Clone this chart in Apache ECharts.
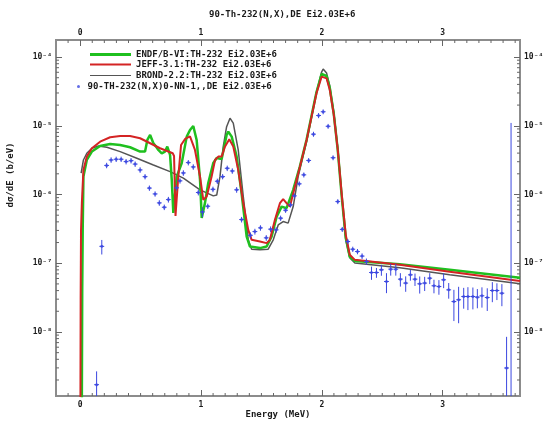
<!DOCTYPE html>
<html><head><meta charset="utf-8">
<script src="https://cdn.jsdelivr.net/npm/echarts@6/dist/echarts.min.js"></script>
<style>html,body{margin:0;padding:0;background:#fff}#c{width:548px;height:423px}</style>
</head><body><div id="c"></div>
<script>
// ---------------- DATA ----------------
const chartTitle = '90-Th-232(N,X),DE Ei2.03E+6';
const xName = 'Energy (MeV)';
const yName = 'd\u03c3/dE (b/eV)';
const seriesNames = [
  'ENDF/B-VI:TH-232 Ei2.03E+6',
  'JEFF-3.1:TH-232 Ei2.03E+6',
  'BROND-2.2:TH-232 Ei2.03E+6',
  '90-TH-232(N,X)0-NN-1,,DE Ei2.03E+6'
];
const xMajorTicks = [0, 1, 2, 3];
const yMajorTicks = [1e-8, 1e-7, 1e-6, 1e-5, 1e-4];

// ENDF/B-VI (green)
const greenE = [0.012,0.017,0.021,0.027,0.055,0.097,0.165,0.248,0.331,0.413,0.496,0.537,0.556,0.579,0.606,0.628,0.647,0.675,0.702,0.721,0.744,0.758,0.771,0.799,0.840,0.882,0.909,0.936,0.964,0.992,1.006,1.033,1.060,1.102,1.130,1.171,1.212,1.226,1.254,1.295,1.336,1.378,1.405,1.488,1.543,1.584,1.626,1.667,1.708,1.763,1.818,1.874,1.915,1.956,1.998,2.011,2.039,2.066,2.099,2.132,2.165,2.198,2.231,2.273,2.645,3.058,3.640];
const greenY = [1e-10,4.10e-8,3.06e-7,1.82e-6,3.18e-6,4.21e-6,5.09e-6,5.44e-6,5.26e-6,4.87e-6,4.21e-6,4.21e-6,6.22e-6,7.35e-6,5.57e-6,4.97e-6,4.45e-6,3.98e-6,4.21e-6,4.97e-6,3.77e-6,1.63e-6,5.41e-7,1.82e-6,2.85e-6,6.95e-6,8.69e-6,9.93e-6,6.22e-6,1.63e-6,4.57e-7,7.55e-7,1.47e-6,2.88e-6,3.40e-6,3.29e-6,7.35e-6,8.20e-6,6.95e-6,3.56e-6,1.04e-6,2.44e-7,1.75e-7,1.66e-7,1.75e-7,2.44e-7,4.77e-7,6.67e-7,6.32e-7,1.17e-6,2.55e-6,6.3e-6,1.4e-5,3.1e-5,5.66e-5,5.96e-5,5.30e-5,3.54e-5,1.48e-5,4.4e-6,9.2e-7,2.34e-7,1.24e-7,1.08e-7,9.63e-8,8.02e-8,6.14e-8];

// JEFF-3.1 (red)
const redE = [0.001,0.004,0.007,0.014,0.027,0.055,0.097,0.165,0.248,0.331,0.413,0.496,0.579,0.661,0.766,0.777,0.789,0.810,0.835,0.868,0.909,0.950,0.992,1.019,1.047,1.088,1.116,1.143,1.171,1.198,1.234,1.267,1.308,1.350,1.391,1.419,1.488,1.543,1.570,1.612,1.653,1.680,1.708,1.736,1.777,1.818,1.874,1.915,1.956,1.998,2.011,2.039,2.066,2.099,2.132,2.165,2.198,2.231,2.273,2.645,3.058,3.640];
const redY = [1e-10,3e-8,3e-7,7.55e-7,2.28e-6,3.56e-6,4.71e-6,5.87e-6,6.81e-6,7.11e-6,7.11e-6,6.58e-6,5.57e-6,4.71e-6,3.98e-6,3.64e-6,4.89e-7,1.63e-6,5.26e-6,6.43e-6,6.99e-6,4.45e-6,1.82e-6,8.35e-7,9.33e-7,1.82e-6,3.18e-6,3.56e-6,3.56e-6,4.97e-6,6.37e-6,4.97e-6,2.28e-6,7.48e-7,3.06e-7,2.19e-7,2.07e-7,1.96e-7,2.19e-7,4.28e-7,7.48e-7,8.55e-7,7.48e-7,6.67e-7,1.30e-6,2.52e-6,6.22e-6,1.36e-5,2.97e-5,5.18e-5,5.47e-5,4.90e-5,3.31e-5,1.44e-5,4.45e-6,9.87e-7,2.59e-7,1.33e-7,1.12e-7,9.48e-8,7.50e-8,5.5e-8];

// BROND-2.2 (gray)
const grayE = [0.008,0.027,0.055,0.097,0.151,0.221,0.331,0.469,0.606,0.744,0.854,0.992,1.102,1.130,1.157,1.184,1.212,1.240,1.267,1.308,1.350,1.391,1.419,1.488,1.556,1.598,1.639,1.680,1.721,1.763,1.804,1.874,1.915,1.956,1.998,2.011,2.039,2.066,2.099,2.132,2.165,2.198,2.231,2.273,2.645,3.058,3.640];
const grayY = [2.04e-6,3.18e-6,3.98e-6,4.71e-6,5.09e-6,4.87e-6,4.21e-6,3.37e-6,2.69e-6,2.15e-6,1.73e-6,1.17e-6,9.55e-7,9.8e-7,1.82e-6,4.97e-6,9.70e-6,1.29e-5,1.09e-5,4.45e-6,9.33e-7,2.19e-7,1.60e-7,1.57e-7,1.60e-7,2.19e-7,3.61e-7,4.04e-7,3.83e-7,6.67e-7,1.82e-6,5.82e-6,1.34e-5,3.1e-5,6.05e-5,6.70e-5,5.85e-5,3.79e-5,1.59e-5,4.75e-6,9.6e-7,2.19e-7,1.20e-7,1.01e-7,8.57e-8,6.78e-8,5.02e-8];

// Experimental points (blue) with errors
const expE = [0.136,0.179,0.219,0.256,0.298,0.339,0.380,0.421,0.455,0.496,0.537,0.573,0.620,0.655,0.696,0.730,0.798,0.826,0.854,0.895,0.936,0.978,1.012,1.056,1.099,1.135,1.179,1.217,1.259,1.295,1.336,1.409,1.446,1.492,1.540,1.576,1.622,1.659,1.700,1.741,1.773,1.813,1.851,1.891,1.931,1.973,2.011,2.052,2.093,2.132,2.169,2.215,2.256,2.295,2.333,2.369,2.411,2.452,2.493,2.535,2.570,2.612,2.650,2.694,2.733,2.771,2.810,2.851,2.893,2.928,2.969,3.008,3.050,3.093,3.132,3.174,3.209,3.250,3.287,3.325,3.369,3.411,3.449,3.490,3.529,3.566];
const expY = [1.71e-9,1.76e-7,2.65e-6,3.18e-6,3.26e-6,3.26e-6,3.01e-6,3.11e-6,2.77e-6,2.28e-6,1.82e-6,1.24e-6,1.02e-6,7.55e-7,6.53e-7,8.43e-7,1.25e-6,1.58e-6,2.06e-6,2.91e-6,2.52e-6,1.07e-6,5.58e-7,6.76e-7,1.19e-6,1.56e-6,1.82e-6,2.41e-6,2.20e-6,1.17e-6,4.32e-7,2.55e-7,2.89e-7,3.27e-7,2.34e-7,3.13e-7,3.06e-7,4.53e-7,5.91e-7,7.06e-7,9.55e-7,1.43e-6,1.93e-6,3.13e-6,7.55e-6,1.41e-5,1.60e-5,9.84e-6,3.43e-6,7.89e-7,3.11e-7,2.07e-7,1.60e-7,1.48e-7,1.27e-7,1.06e-7,7.33e-8,7.33e-8,8.02e-8,5.42e-8,8.20e-8,8.20e-8,5.87e-8,5.14e-8,6.78e-8,5.87e-8,5.02e-8,5.14e-8,6.07e-8,4.70e-8,4.58e-8,5.74e-8,4.10e-8,2.77e-8,2.94e-8,3.28e-8,3.28e-8,3.28e-8,3.21e-8,3.36e-8,3.17e-8,4.01e-8,4.01e-8,3.67e-8,2.99e-9,1.0e-9];
const expDY = [0.96e-9,0.42e-7,2.4e-7,2.9e-7,2.9e-7,2.9e-7,2.7e-7,2.8e-7,2.5e-7,2.1e-7,1.6e-7,1.1e-7,0.9e-7,0.7e-7,0.6e-7,0.8e-7,1.1e-7,1.4e-7,1.9e-7,2.6e-7,2.3e-7,1.0e-7,0.9e-7,0.6e-7,1.1e-7,1.4e-7,1.6e-7,2.2e-7,2.0e-7,1.1e-7,0.4e-7,0.25e-7,0.28e-7,0.3e-7,0.22e-7,0.3e-7,0.28e-7,0.4e-7,0.5e-7,0.6e-7,0.8e-7,1.2e-7,1.6e-7,2.6e-7,6.3e-7,1.2e-6,1.3e-6,8e-7,2.8e-7,0.65e-7,0.26e-7,0.18e-7,0.14e-7,0.13e-7,0.12e-7,0.11e-7,1.6e-8,1.2e-8,1.45e-8,1.75e-8,1.6e-8,1.6e-8,1.3e-8,1.3e-8,1.2e-8,1.2e-8,1.4e-8,1.2e-8,1.1e-8,1.05e-8,1.1e-8,1.4e-8,1.05e-8,1.33e-8,1.6e-8,1.1e-8,1.2e-8,1.15e-8,1.0e-8,1.1e-8,1.15e-8,1.3e-8,1.1e-8,1.3e-8,5.5e-9,1.1e-5];
const expDE = 0.02; // energy half-width of each experimental bin

// ---------------- CHART ----------------
const X_MIN = -0.2, X_MAX = 3.64, Y_MIN = 1.17e-9, Y_MAX = 1.77e-4;
const FONT = '"DejaVu Sans Mono", "Liberation Mono", monospace';
const FRAME = '#8c8c8c';
const TICK = '#666666';
const TXT = '#1a1a1a';
const BLUE = '#3b47e0';
const GREEN = '#1fc01f', RED = '#d42424', GRAY = '#555555';
const MINOR_LEN = 3;

const zip = (a, b) => a.map((v, i) => [v, b[i]]);
// minor tick positions (axis furniture)
const xMinorTicks = [];
for (let i = -1; i <= 36; i++) { if (i % 10 !== 0) xMinorTicks.push(i / 10); }
const yMinorTicks = [];
for (let n = -9; n <= -4; n++) for (let k = 2; k <= 9; k++) {
  const v = k * Math.pow(10, n);
  if (v > Y_MIN && v < Y_MAX) yMinorTicks.push(v);
}
const lMin = Math.log10(Y_MIN), lMax = Math.log10(Y_MAX);
const yMajorLog = yMajorTicks.map(v => Math.log10(v));
const SUP = {'-':'\u207b','0':'\u2070','1':'\u00b9','2':'\u00b2','3':'\u00b3','4':'\u2074','5':'\u2075','6':'\u2076','7':'\u2077','8':'\u2078','9':'\u2079'};
const powLabel = v => '10' + String(Math.round(v)).split('').map(c => SUP[c]).join('');

const labelStyle = {fontFamily: FONT, fontSize: 8, fontWeight: 'bold', color: TXT};

function xAx(pos) {
  return {
    type: 'value', position: pos, min: X_MIN, max: X_MAX, offset: 0,
    axisLine: {show: false, onZero: false}, splitLine: {show: false},
    axisTick: {show: true, inside: true, length: 6, customValues: xMajorTicks, lineStyle: {color: TICK, width: 1}},
    axisLabel: Object.assign({show: true, customValues: xMajorTicks, margin: pos === 'top' ? 3 : 5,
               formatter: v => String(v)}, labelStyle)
  };
}
function yAx(pos) {
  return {
    type: 'value', position: pos, min: lMin, max: lMax, offset: 0,
    axisLine: {show: false, onZero: false}, splitLine: {show: false},
    axisTick: {show: true, inside: true, length: 6, customValues: yMajorLog, lineStyle: {color: TICK, width: 1}},
    axisLabel: Object.assign({show: true, customValues: yMajorLog, margin: 4, formatter: powLabel}, labelStyle)
  };
}

const legendBase = {
  orient: 'horizontal', padding: 0, itemGap: 0, selectedMode: false,
  textStyle: {fontFamily: FONT, fontSize: 9, fontWeight: 'bold', color: TXT}
};

function tickSeries(values, dim) {
  return {
    type: 'custom', xAxisIndex: 0, yAxisIndex: 0, clip: false, silent: true, z: 1,
    data: values.map(v => [v]),
    encode: dim === 'x' ? {x: 0} : {y: 0},
    renderItem: function (params, api) {
      const v = api.value(0);
      const st = {stroke: TICK, lineWidth: 1};
      let a, b;
      if (dim === 'x') { a = api.coord([v, Y_MIN]); b = api.coord([v, Y_MAX]);
        return {type: 'group', children: [
          {type: 'line', shape: {x1: a[0], y1: a[1], x2: a[0], y2: a[1] - MINOR_LEN}, style: st},
          {type: 'line', shape: {x1: b[0], y1: b[1], x2: b[0], y2: b[1] + MINOR_LEN}, style: st}]};
      }
      a = api.coord([X_MIN, v]); b = api.coord([X_MAX, v]);
      return {type: 'group', children: [
        {type: 'line', shape: {x1: a[0], y1: a[1], x2: a[0] + MINOR_LEN, y2: a[1]}, style: st},
        {type: 'line', shape: {x1: b[0], y1: b[1], x2: b[0] - MINOR_LEN, y2: b[1]}, style: st}]};
    }
  };
}

const option = {
  animation: false,
  backgroundColor: '#fff',
  title: {text: chartTitle, left: 209, top: 10, padding: 0,
          textStyle: {fontFamily: FONT, fontSize: 9, fontWeight: 'bold', color: TXT}},
  grid: {left: 56, right: 28, top: 40, bottom: 27, show: true, borderColor: FRAME, borderWidth: 2, backgroundColor: 'transparent'},
  legend: [
    Object.assign({data: [seriesNames[0]], left: 90, top: 50, itemWidth: 41, itemHeight: 3, icon: 'rect', itemStyle: {color: GREEN}}, legendBase),
    Object.assign({data: [seriesNames[1]], left: 90, top: 60, itemWidth: 41, itemHeight: 2, icon: 'rect', itemStyle: {color: RED}}, legendBase),
    Object.assign({data: [seriesNames[2]], left: 90, top: 71, itemWidth: 41, itemHeight: 1, icon: 'rect', itemStyle: {color: GRAY}}, legendBase),
    Object.assign({data: [seriesNames[3]], left: 77, top: 82, itemWidth: 8, itemHeight: 3, icon: 'circle'}, legendBase)
  ],
  xAxis: [xAx('bottom'), xAx('top')],
  yAxis: [
    {type: 'log', logBase: 10, min: Y_MIN, max: Y_MAX, position: 'left', show: false, axisLine: {onZero: false}},
    yAx('left'), yAx('right')
  ],
  graphic: [
    {type: 'text', x: 278, y: 415, style: {text: xName, font: 'bold 9px ' + FONT, fill: TXT, align: 'center', verticalAlign: 'middle'}},
    {type: 'text', x: 11, y: 175, rotation: Math.PI / 2,
     style: {text: yName, font: 'bold 9px ' + FONT, fill: TXT, align: 'center', verticalAlign: 'middle'}}
  ],
  series: [
    tickSeries(xMinorTicks, 'x'),
    tickSeries(yMinorTicks, 'y'),
    {name: seriesNames[2], type: 'line', xAxisIndex: 0, yAxisIndex: 0, data: zip(grayE, grayY), symbol: 'none',
     color: GRAY, lineStyle: {color: GRAY, width: 1.5}, z: 2},
    {name: seriesNames[0], type: 'line', xAxisIndex: 0, yAxisIndex: 0, data: zip(greenE, greenY), symbol: 'none',
     color: GREEN, lineStyle: {color: GREEN, width: 2.5}, z: 3},
    {name: seriesNames[1], type: 'line', xAxisIndex: 0, yAxisIndex: 0, data: zip(redE, redY), symbol: 'none',
     color: RED, lineStyle: {color: RED, width: 2}, z: 4},
    {name: 'errorbars', type: 'custom', xAxisIndex: 0, yAxisIndex: 0, clip: true, z: 5,
     data: expE.map((e, i) => [e, expY[i], expDY[i], expDE]),
     encode: {x: 0, y: 1},
     renderItem: function (params, api) {
       const x = api.value(0), y = api.value(1), dy = api.value(2), dx = api.value(3);
       const lo = Math.max(y - dy, 1e-14), hi = y + dy;
       const a = api.coord([x, lo]), b = api.coord([x, hi]);
       const l = api.coord([x - dx, y]), r = api.coord([x + dx, y]);
       const st = {stroke: BLUE, lineWidth: 1};
       return {type: 'group', children: [
         {type: 'line', shape: {x1: a[0], y1: a[1], x2: b[0], y2: b[1]}, style: st},
         {type: 'line', shape: {x1: l[0], y1: l[1], x2: r[0], y2: r[1]}, style: st}
       ]};
     }},
    {name: seriesNames[3], type: 'scatter', xAxisIndex: 0, yAxisIndex: 0, data: zip(expE, expY),
     symbol: 'circle', symbolSize: 3, color: BLUE, itemStyle: {color: BLUE}, clip: true, z: 6}
  ]
};

const chart = echarts.init(document.getElementById('c'), null, {renderer: 'canvas'});
chart.setOption(option);
</script>
</body></html>
